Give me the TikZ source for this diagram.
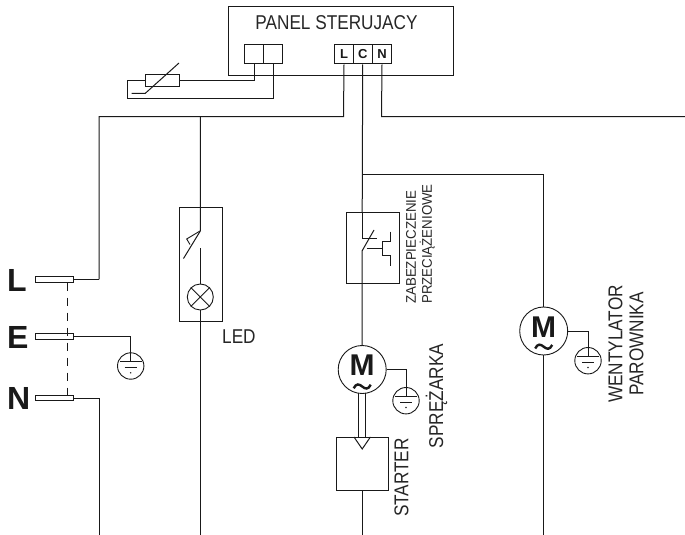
\documentclass[tikz,border=0pt]{standalone}
\usepackage{fontspec}
\setmainfont{Liberation Sans}
\newfontfamily\narrowf[FakeStretch=0.86]{Liberation Sans}
\newfontfamily\zabf[FakeStretch=0.95]{Liberation Sans}
\tikzset{
  wire/.style={line width=1pt,draw=black!90},
  fine/.style={line width=0.9pt,draw=black!90},
  boxx/.style={line width=1pt,draw=black!90},
  tld/.style={line width=2.4pt,draw=black!90},
  lbl/.style={font=\fontsize{20}{21}\selectfont\narrowf,text=black!85,inner sep=0pt,align=center},
  big/.style={font=\fontsize{32}{32}\selectfont\bfseries,text=black!90,inner sep=0pt},
  mot/.style={font=\fontsize{30}{30}\selectfont\bfseries,text=black!90,inner sep=0pt},
  term/.style={font=\fontsize{13}{13}\selectfont\bfseries,text=black!90,inner sep=0pt},
}
\newcommand{\earth}[2]{%
  \draw[fine] (#1,#2) circle (13.2);
  \draw[wire] (#1-10.8,#2-4.3) -- (#1+10.8,#2-4.3);
  \draw[wire] (#1-6,#2+1.3) -- (#1+6,#2+1.3);
  \fill[black!85] (#1,#2+6.8) circle (0.8);
}
\newcommand{\tildemark}[2]{%
  \draw[tld] (#1-8.5,#2+1.8) .. controls (#1-6,#2-3.5) and (#1-3,#2-2.5) .. (#1,#2) .. controls (#1+3,#2+2.5) and (#1+6,#2+3.5) .. (#1+8.5,#2-1.8);
}
\begin{document}
\begin{tikzpicture}[x=1pt,y=-1pt]
\useasboundingbox (0,0) rectangle (685,535);
% panel
\node[boxx,draw,minimum width=225,minimum height=69,inner sep=0,anchor=north west] (panel) at (227.5,5.7) {};
\node[lbl] (ptitle) at (336.5,23) {PANEL STERUJACY};
\foreach \n/\xa in {s1/244,s2/263}{
  \node[boxx,draw,minimum width=19,minimum height=19.5,inner sep=0,anchor=north west] (\n) at (\xa,44) {};
}
\foreach \n/\xa/\t in {tl/334/L,tc/352.7/C,tn/372/N}{
  \node[boxx,draw,minimum width=19,minimum height=19.5,inner sep=0,anchor=north west,term] (\n) at (\xa,44) {\t};
}
% sensor
\node[boxx,draw,minimum width=33.6,minimum height=12,inner sep=0] (res) at (162.5,80) {};
\draw[wire] (res.east) -| (s1.south);
\draw[wire] (res.west) -- (127.5,80) -- (127.5,98.3) -| (s2.south);
\draw[wire] (131.7,93.3) -- (145.3,93.3) -- (179,63);
% mains wires
\draw[wire] (tl.south) -- (343.5,116.7) -- (99,116.7) -- (99,279.3);
\draw[wire] (tc.south) -- (362.2,212);
\draw[wire] (tn.south) -- (381.5,116.7) -- (685,116.7);
\draw[wire] (362.2,174.7) -- (543.7,174.7) -- (543.7,307);
% terminals
\node[boxx,draw,fill=white,minimum width=38,minimum height=5.5,inner sep=0] (fl) at (54,279.3) {};
\node[boxx,draw,fill=white,minimum width=38,minimum height=5.5,inner sep=0] (fe) at (54,336.3) {};
\node[boxx,draw,fill=white,minimum width=38,minimum height=5.5,inner sep=0] (fn) at (54,398) {};
\draw[wire] (fl.east) -- (99,279.3);
\node[big,anchor=west] (bl) at (7,280) {L};
\node[big,anchor=west] (be) at (7,337) {E};
\node[big,anchor=west] (bn) at (7,398) {N};
\draw[fine,dash pattern=on 8pt off 7pt] (fl.south -| 67,282) -- (67,395);
\draw[wire] (fe.east) -- (130.7,336.3) -- (130.7,361.7);
\earth{130.7}{366}
\draw[wire] (fn.east) -- (99,398) -- (99,535);
% LED branch
\draw[wire] (200.3,116.7) -- (200.3,231) -- (183.5,258.5);
\draw[fine] (200,231) -- (186.7,239) -- (190,244.5);
\node[boxx,draw,minimum width=43,minimum height=113.5,inner sep=0,anchor=north west] (ledbox) at (179,207) {};
\node[fine,draw,circle,minimum size=26,inner sep=0] (lamp) at (200.3,297) {};
\draw[fine] (lamp.north west) -- (lamp.south east);
\draw[fine] (lamp.north east) -- (lamp.south west);
\coordinate (lg) at (200.3,248);
\draw[wire] (lg) -- (lamp.north);
\draw[wire] (lamp.south) -- (200.3,535);
\node[lbl,anchor=west] (ledl) at (222,337) {LED};
% overload
\node[boxx,draw,minimum width=53.3,minimum height=71,inner sep=0,anchor=north west] (ol) at (345.7,212) {};
\draw[wire] (362.2,212) -- (362.2,238.3) -- (377,238.3);
\draw[wire] (374,230) -- (362.2,250.7) -- (362.2,345.5);
\draw[fine] (366.7,248.3) -- (382.7,248.3);
\draw[fine] (390,231.7) -- (390,241.7) -- (382.7,241.7) -- (382.7,255) -- (390,255) -- (390,266);
\node[lbl,rotate=90,font=\fontsize{14}{16}\selectfont\zabf,align=left] (zab) at (420.5,244) {ZABEZPIECZENIE\\PRZECIĄŻENIOWE};
% compressor
\node[fine,draw,circle,minimum size=48,inner sep=0] (m1) at (362.2,369.5) {};
\node[mot] (m1t) at (362.2,365) {M};
\tildemark{362.2}{386.5}
\draw[wire] (m1.east) -- (406,369.5) -- (406,396.4);
\earth{406}{400.7}
\draw[wire] (358.4,393) -- (358.4,437);
\draw[wire] (365.6,393) -- (365.6,437);
\node[boxx,draw,minimum width=52.5,minimum height=53,inner sep=0,anchor=north west] (st) at (335.7,437) {};
\draw[wire] (354,437) -- (362.2,449) -- (370.4,437);
\draw[wire] (st.south -| 362.2,490) -- (362.2,535);
\node[lbl,rotate=90,anchor=base] (stl) at (408.3,477.5) {STARTER};
\node[lbl,rotate=90,anchor=base] (spl) at (443,396) {SPRĘŻARKA};
% fan
\node[fine,draw,circle,minimum size=48,inner sep=0] (m2) at (543.7,331) {};
\node[mot] (m2t) at (543.7,326.7) {M};
\tildemark{543.7}{346.7}
\draw[wire] (m2.south) -- (543.7,535);
\draw[wire] (m2.east) -- (588,331) -- (588,356.4);
\earth{588}{360.7}
\node[lbl,rotate=90] (wl) at (626,344) {WENTYLATOR\\PAROWNIKA};
\end{tikzpicture}
\end{document}
